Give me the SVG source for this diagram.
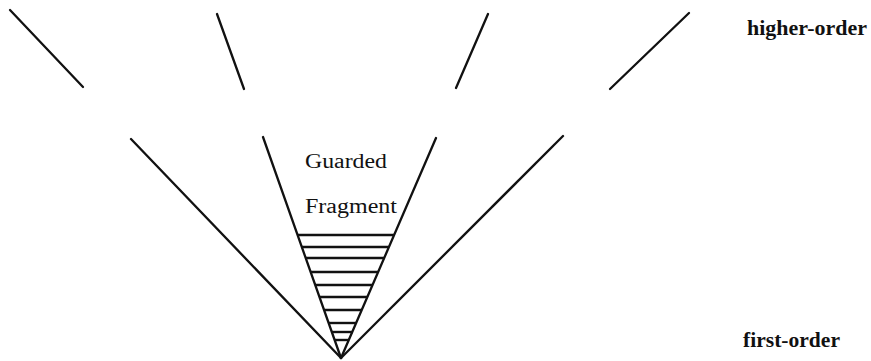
<svg xmlns="http://www.w3.org/2000/svg" width="871" height="361" viewBox="0 0 871 361">
<style>
.ln{stroke:#111;stroke-width:2.3;fill:none;stroke-linecap:round}
.hl{stroke:#111;stroke-width:2.4;fill:none}
.lbl{font-family:"Liberation Serif","DejaVu Serif",serif;font-size:20px;fill:#111}
.b{font-weight:bold}
</style>
<rect width="871" height="361" fill="#fff"/>
<g id="connectors">
<line class="ln" x1="10" y1="10" x2="83" y2="87"/>
<line class="ln" x1="217" y1="14" x2="244" y2="89"/>
<line class="ln" x1="488" y1="14" x2="456" y2="88"/>
<line class="ln" x1="689" y1="13" x2="610" y2="89"/>
<line class="ln" x1="131" y1="139" x2="341" y2="358"/>
<line class="ln" x1="563" y1="136" x2="341" y2="358"/>
<line class="ln" x1="263" y1="137" x2="341" y2="358"/>
<line class="ln" x1="436" y1="138" x2="341" y2="358"/>
</g>
<g id="hatching">
<line class="hl" x1="297" y1="235" x2="394" y2="235"/>
<line class="hl" x1="301" y1="247" x2="389" y2="247"/>
<line class="hl" x1="305" y1="258" x2="384" y2="258"/>
<line class="hl" x1="310" y1="272" x2="378" y2="272"/>
<line class="hl" x1="315" y1="285" x2="372" y2="285"/>
<line class="hl" x1="319" y1="297" x2="367" y2="297"/>
<line class="hl" x1="324" y1="310" x2="362" y2="310"/>
<line class="hl" x1="328" y1="323" x2="356" y2="323"/>
<line class="hl" x1="332" y1="332" x2="353" y2="332"/>
<line class="hl" x1="335" y1="340" x2="349" y2="340"/>
</g>
<g id="guarded-fragment">
<text class="lbl" x="305" y="168" textLength="82" lengthAdjust="spacingAndGlyphs">Guarded</text>
<text class="lbl" x="305" y="213" textLength="92" lengthAdjust="spacingAndGlyphs">Fragment</text>
</g>
<g id="higher-order">
<text class="lbl b" x="747" y="35" textLength="120" lengthAdjust="spacingAndGlyphs">higher-order</text>
</g>
<g id="first-order">
<text class="lbl b" x="743" y="347" textLength="97" lengthAdjust="spacingAndGlyphs">first-order</text>
</g>
</svg>
